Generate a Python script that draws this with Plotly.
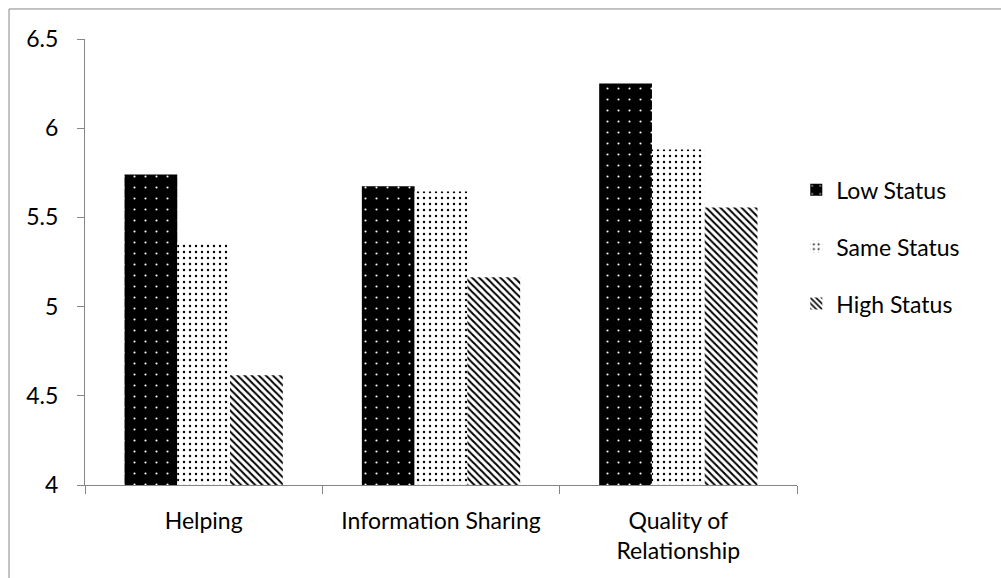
import plotly.graph_objects as go

# Mean ratings by measure and partner status
categories = ["Helping", "Information Sharing", "Quality of<br>Relationship"]
low_status = [5.74, 5.675, 6.25]
same_status = [5.355, 5.645, 5.88]
high_status = [4.615, 5.165, 5.555]
y_ticks = [4, 4.5, 5, 5.5, 6, 6.5]
y_tick_text = ["4", "4.5", "5", "5.5", "6", "6.5"]

FONT = "Lato"
AXIS_GREY = "#868686"

fig = go.Figure()

fig.add_trace(go.Bar(
    name="Low Status", x=categories, y=low_status, legendgroup="a",
    marker=dict(color="black", line=dict(width=0),
                pattern=dict(shape=".", bgcolor="black", fgcolor="white",
                             size=11, solidity=0.03, fillmode="replace")),
))
fig.add_trace(go.Bar(
    name="Same Status", x=categories, y=same_status, legendgroup="b",
    marker=dict(color="white", line=dict(width=0),
                pattern=dict(shape=".", bgcolor="white", fgcolor="black",
                             size=6, solidity=0.12, fillmode="replace")),
))
fig.add_trace(go.Bar(
    name="High Status", x=categories, y=high_status, legendgroup="c",
    marker=dict(color="white", line=dict(width=0),
                pattern=dict(shape="\\", bgcolor="white", fgcolor="black",
                             size=5, solidity=0.4, fillmode="replace")),
))

# outer chart frame (top and left edges)
fig.add_shape(type="line", xref="paper", yref="paper",
              x0=-0.1067, x1=1.4, y0=1.0673, y1=1.0673,
              line=dict(color=AXIS_GREY, width=1))
fig.add_shape(type="line", xref="paper", yref="paper",
              x0=-0.1067, x1=-0.1067, y0=-0.3, y1=1.0673,
              line=dict(color=AXIS_GREY, width=1))

fig.update_layout(
    width=1001, height=578,
    margin=dict(l=85, r=204, t=39, b=93),
    paper_bgcolor="white", plot_bgcolor="white",
    barmode="group", bargap=0.333, bargroupgap=0,
    font=dict(family=FONT, size=23, color="black"),
    showlegend=True,
    legend=dict(x=0.999, y=0.71, xanchor="left", yanchor="top",
                traceorder="grouped", tracegroupgap=24,
                font=dict(family=FONT, size=23, color="black"),
                bgcolor="rgba(0,0,0,0)"),
    xaxis=dict(showline=True, linecolor=AXIS_GREY, linewidth=1,
               ticks="outside", tickson="boundaries", ticklen=8,
               tickcolor=AXIS_GREY, showgrid=False, ticklabelstandoff=15),
    yaxis=dict(range=[4, 6.5], tickvals=y_ticks, ticktext=y_tick_text,
               showline=True, linecolor=AXIS_GREY, linewidth=1,
               ticks="outside", ticklen=7, tickcolor=AXIS_GREY,
               showgrid=False, zeroline=False, ticklabelstandoff=14),
)

fig.write_html("out.html")
